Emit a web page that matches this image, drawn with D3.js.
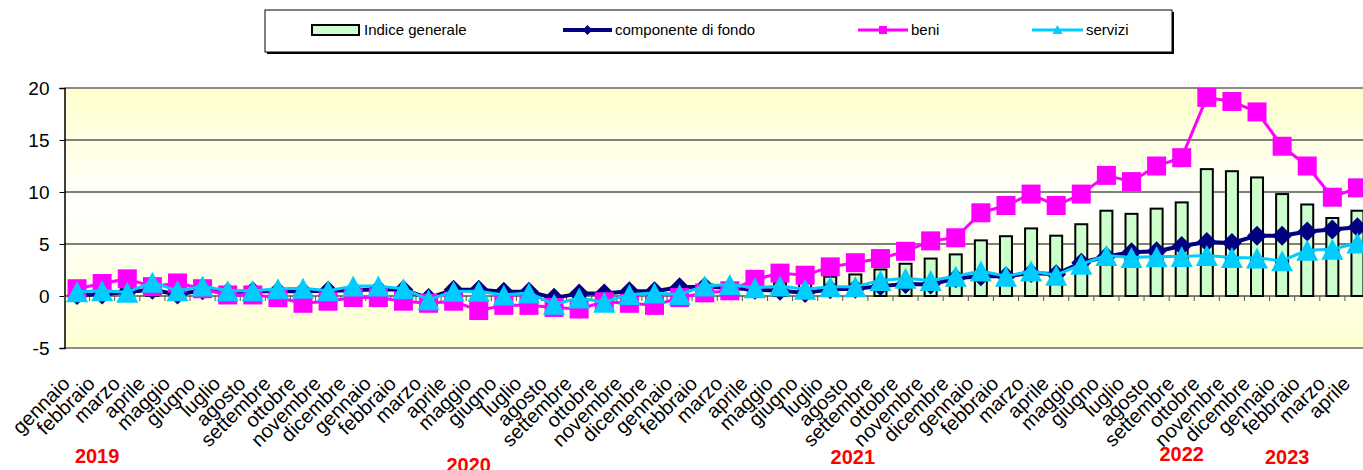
<!DOCTYPE html>
<html>
<head>
<meta charset="utf-8">
<script src="https://cdn.jsdelivr.net/npm/d3@7"></script>
<style>
  body { margin: 0; background: #ffffff; }
  svg { display: block; font-family: "Liberation Sans", Arial, sans-serif; }
</style>
</head>
<body>
<div id="chart"></div>
<script>
// Inflation chart: monthly categories, 2019 - aprile 2023

// category labels (x axis)
var monthNames = ["gennaio", "febbraio", "marzo", "aprile", "maggio", "giugno",
    "luglio", "agosto", "settembre", "ottobre", "novembre", "dicembre"];
var months = [].concat(monthNames, monthNames, monthNames, monthNames, monthNames.slice(0, 4));

// year labels under the axis
var years = ["2019", "2020", "2021", "2022", "2023"];

// series values
var indiceGenerale = [0.9, 1.0, 1.0, 1.1, 0.8, 0.7, 0.4, 0.4, 0.3, 0.2, 0.2, 0.5,
    0.5, 0.3, 0.1, 0.0, -0.2, -0.2, -0.4, -0.5, -0.6, -0.3, -0.2, -0.2,
    0.4, 0.6, 0.8, 1.1, 1.3, 1.3, 1.85, 2.07, 2.55, 3.1, 3.6, 4.0,
    5.35, 5.75, 6.5, 5.8, 6.9, 8.2, 7.9, 8.4, 9.0, 12.2, 12.0, 11.4,
    9.8, 8.8, 7.5, 8.2];

var componenteFondo = [0.1, 0.15, 0.4, 0.6, 0.15, 0.55, 0.35, 0.45, 0.45, 0.45, 0.5, 0.55,
    0.65, 0.6, -0.2, 0.6, 0.6, 0.4, 0.42, -0.18, 0.23, 0.23, 0.45, 0.45,
    0.85, 0.9, 0.8, 0.6, 0.5, 0.3, 0.65, 0.7, 0.95, 1.15, 1.1, 1.7,
    1.9, 1.9, 2.2, 2.1, 3.2, 3.8, 4.2, 4.3, 4.8, 5.2, 5.1, 5.8,
    5.8, 6.2, 6.4, 6.6];

var beni = [0.7, 1.2, 1.65, 0.9, 1.25, 0.7, 0.1, 0.1, -0.15, -0.7, -0.5, -0.15,
    -0.15, -0.5, -0.7, -0.5, -1.4, -0.9, -0.9, -1.1, -1.25, -0.55, -0.7, -0.9,
    -0.15, 0.3, 0.5, 1.6, 2.2, 2.0, 2.8, 3.2, 3.6, 4.3, 5.3, 5.6,
    8.0, 8.7, 9.8, 8.7, 9.8, 11.6, 11.0, 12.5, 13.3, 19.1, 18.7, 17.7,
    14.4, 12.5, 9.5, 10.4];

var servizi = [0.4, 0.5, 0.37, 1.33, 0.5, 0.95, 0.5, 0.5, 0.7, 0.75, 0.5, 0.95,
    0.95, 0.7, -0.35, 0.45, 0.45, 0.1, 0.3, -0.8, -0.2, -0.6, 0.15, 0.3,
    0.15, 0.96, 1.1, 0.8, 0.96, 0.64, 0.9, 0.9, 1.5, 1.7, 1.5, 1.9,
    2.4, 1.9, 2.4, 2.0, 3.05, 3.9, 3.7, 3.8, 3.8, 3.9, 3.7, 3.65,
    3.4, 4.4, 4.5, 5.1];

var yTicks = [-5, 0, 5, 10, 15, 20];

// ------------------------------------------------------------------

var svgWidth = 1363;
var svgHeight = 470;

// plot area (runs a little past the right edge, like the picture)
var plot = { left: 64.5, right: 1370, top: 88, bottom: 348 };

var svg = d3.select("#chart")
    .append("svg")
    .attr("width", svgWidth)
    .attr("height", svgHeight);

var idx = d3.range(months.length);

var x = d3.scaleBand()
    .domain(idx)
    .range([plot.left, plot.right])
    .padding(0);

var y = d3.scaleLinear()
    .domain([-5, 20])
    .range([plot.bottom, plot.top]);

var cx = function(i) { return x(i) + x.bandwidth() / 2; };

// background gradient
var defs = svg.append("defs");
var grad = defs.append("linearGradient")
    .attr("id", "bg")
    .attr("x1", 0).attr("y1", 0).attr("x2", 0).attr("y2", 1);
grad.append("stop").attr("offset", "0%").attr("stop-color", "#ffffcc");
grad.append("stop").attr("offset", "45%").attr("stop-color", "#ffffff");
grad.append("stop").attr("offset", "100%").attr("stop-color", "#ffffd2");

svg.append("rect")
    .attr("x", plot.left)
    .attr("y", plot.top)
    .attr("width", plot.right - plot.left)
    .attr("height", plot.bottom - plot.top)
    .attr("fill", "url(#bg)");

// gridlines
svg.append("g")
    .selectAll("line")
    .data([5, 10, 15])
    .enter()
    .append("line")
    .attr("x1", plot.left)
    .attr("x2", plot.right)
    .attr("y1", d => y(d))
    .attr("y2", d => y(d))
    .attr("stroke", d => d == 15 ? "#808080" : "#000000")
    .attr("stroke-width", d => d == 15 ? 2 : 1);

// top / bottom border of plot
svg.append("line")
    .attr("x1", plot.left).attr("x2", plot.right)
    .attr("y1", y(20)).attr("y2", y(20))
    .attr("stroke", "#8c8c8c").attr("stroke-width", 2);
svg.append("line")
    .attr("x1", plot.left).attr("x2", plot.right)
    .attr("y1", y(-5)).attr("y2", y(-5))
    .attr("stroke", "#8c8c8c").attr("stroke-width", 2);

// y axis
var yAxis = svg.append("g")
    .attr("transform", `translate(${plot.left}, 0)`)
    .call(d3.axisLeft(y).tickValues(yTicks).tickSize(5).tickPadding(10).tickFormat(d => String(d)));
yAxis.select(".domain").attr("stroke", "#000").attr("stroke-width", 1.5);
yAxis.selectAll("line").attr("stroke", "#000");
yAxis.selectAll("text")
    .attr("font-size", "19px")
    .attr("fill", "#000")
    .style("font-family", "Liberation Sans, Arial, sans-serif");

// zero axis with ticks between categories
svg.append("line")
    .attr("x1", plot.left).attr("x2", plot.right)
    .attr("y1", y(0)).attr("y2", y(0))
    .attr("stroke", "#000").attr("stroke-width", 1);
svg.append("g")
    .selectAll("line")
    .data(idx)
    .enter()
    .append("line")
    .attr("x1", d => x(d)).attr("x2", d => x(d))
    .attr("y1", y(0)).attr("y2", y(0) + 5)
    .attr("stroke", "#555").attr("stroke-width", 1);

// bars: indice generale
var barW = 12;
svg.append("g")
    .selectAll("rect")
    .data(indiceGenerale)
    .enter()
    .append("rect")
    .attr("x", (d, i) => cx(i) - barW / 2)
    .attr("y", d => y(Math.max(0, d)))
    .attr("width", barW)
    .attr("height", d => Math.abs(y(d) - y(0)))
    .attr("fill", "#ccffcc")
    .attr("stroke", "#000")
    .attr("stroke-width", 2);

// helper to draw a line series with markers
function drawSeries(values, color, width, markerPath) {
    var line = d3.line()
        .x((d, i) => cx(i))
        .y(d => y(d));
    svg.append("path")
        .datum(values)
        .attr("d", line)
        .attr("fill", "none")
        .attr("stroke", color)
        .attr("stroke-width", width)
        .attr("stroke-linejoin", "round");
    svg.append("g")
        .selectAll("path")
        .data(values)
        .enter()
        .append("path")
        .attr("d", markerPath)
        .attr("transform", (d, i) => `translate(${cx(i)}, ${y(d)})`)
        .attr("fill", color);
}

var diamond = "M0,-10L10,0L0,10L-10,0Z";
var square = "M-9.5,-9.5H9.5V9.5H-9.5Z";
var triangle = "M0,-10.5L11,10.5L-11,10.5Z";

drawSeries(componenteFondo, "#000080", 4, diamond);
drawSeries(beni, "#ff00ff", 3, square);
drawSeries(servizi, "#00ccff", 3, triangle);

// x axis month labels, rotated
var xAxis = svg.append("g")
    .attr("transform", `translate(0, ${plot.bottom})`)
    .call(d3.axisBottom(x).tickSize(0).tickFormat(i => months[i]));
xAxis.select(".domain").remove();
xAxis.selectAll("text")
    .attr("y", 0)
    .attr("dy", 0)
    .attr("transform", "translate(-6, 37) rotate(-45)")
    .style("text-anchor", "end")
    .attr("font-size", "20px")
    .attr("fill", "#000")
    .style("font-family", "Liberation Sans, Arial, sans-serif");

// year labels (layout: centre as category offset, baseline)
var yearPos = [[0.8, 463], [15.6, 472], [30.9, 464], [44, 461], [48.2, 464]];
svg.append("g")
    .selectAll("text")
    .data(years)
    .enter()
    .append("text")
    .attr("x", (d, i) => cx(0) + yearPos[i][0] * x.bandwidth())
    .attr("y", (d, i) => yearPos[i][1])
    .attr("text-anchor", "middle")
    .attr("font-size", "20px")
    .attr("font-weight", "bold")
    .attr("fill", "#ff0000")
    .text(d => d);

// legend
var legend = svg.append("g");
legend.append("rect")
    .attr("x", 267).attr("y", 12)
    .attr("width", 907).attr("height", 42)
    .attr("fill", "#000");
legend.append("rect")
    .attr("x", 265).attr("y", 10)
    .attr("width", 907).attr("height", 42)
    .attr("fill", "#fff")
    .attr("stroke", "#000")
    .attr("stroke-width", 1);

var legY = 30;
legend.append("rect")
    .attr("x", 312).attr("y", legY - 5)
    .attr("width", 47).attr("height", 10)
    .attr("fill", "#ccffcc").attr("stroke", "#000").attr("stroke-width", 2);

var legendLines = [
    { x1: 563, x2: 612, color: "#000080", w: 4, m: "M0,-5L5,0L0,5L-5,0Z" },
    { x1: 858, x2: 908, color: "#ff00ff", w: 3, m: "M-4,-4H4V4H-4Z" },
    { x1: 1032, x2: 1083, color: "#00ccff", w: 3, m: "M0,-5L5,4L-5,4Z" }
];
legendLines.forEach(function(l) {
    legend.append("line")
        .attr("x1", l.x1).attr("x2", l.x2)
        .attr("y1", legY).attr("y2", legY)
        .attr("stroke", l.color).attr("stroke-width", l.w);
    legend.append("path")
        .attr("d", l.m)
        .attr("transform", `translate(${(l.x1 + l.x2) / 2}, ${legY})`)
        .attr("fill", l.color);
});

var legendText = [["Indice generale", 364], ["componente di fondo", 615], ["beni", 911], ["servizi", 1086]];
legend.selectAll("text")
    .data(legendText)
    .enter()
    .append("text")
    .attr("x", d => d[1])
    .attr("y", legY + 5)
    .attr("font-size", "15px")
    .attr("fill", "#000")
    .text(d => d[0]);
</script>
</body>
</html>
